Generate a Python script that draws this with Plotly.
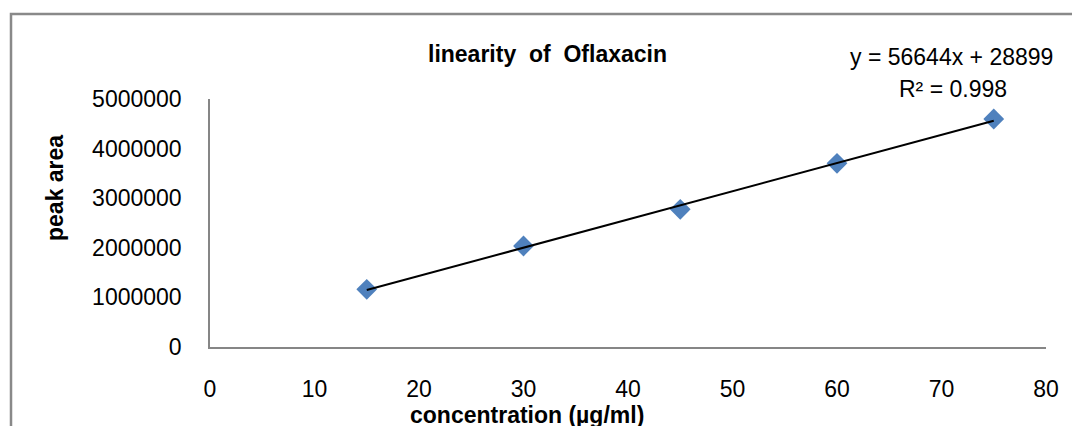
import numpy as np
import plotly.graph_objects as go

# ---- data ----
concentration = [15, 30, 45, 60, 75]
peak_area = [1163000, 2036000, 2776000, 3704000, 4597000]
x_ticks = [0, 10, 20, 30, 40, 50, 60, 70, 80]
y_ticks = [0, 1000000, 2000000, 3000000, 4000000, 5000000]
title_text = "linearity\u00a0\u00a0of\u00a0\u00a0Oflaxacin"
eq_text = "y = 56644x + 28899"
r2_text = "R\u00b2 = 0.998"
x_title = "concentration\u00a0(\u00b5g/ml)"
y_title = "peak\u00a0area"

# ---- layout geometry (pixels) ----
W, H = 1072, 426
L, R, T, B = 210, 1046, 99, 347
FONT = "Liberation Sans, Arial, sans-serif"


def px(xp):
    return (xp - L) / (R - L)


def py(yp):
    return (B - yp) / (B - T)


# trendline from least squares of the data
slope, intercept = np.polyfit(concentration, peak_area, 1)
tx = [min(concentration), max(concentration)]
ty = [slope * v + intercept for v in tx]

fig = go.Figure()
fig.add_trace(go.Scatter(
    x=concentration, y=peak_area, mode="markers",
    marker=dict(symbol="diamond", size=16, color="#4F81BD", line=dict(width=0)),
    showlegend=False, hoverinfo="x+y"))
fig.add_trace(go.Scatter(
    x=tx, y=ty, mode="lines", line=dict(color="black", width=2),
    showlegend=False, hoverinfo="skip"))

fig.update_layout(
    width=W, height=H,
    margin=dict(l=L, r=W - R, t=T, b=H - B, pad=0),
    paper_bgcolor="white", plot_bgcolor="white",
    font=dict(family=FONT, size=23, color="black"),
    showlegend=False,
    xaxis=dict(range=[0, 80], tickvals=x_ticks, ticktext=[str(v) for v in x_ticks],
               showgrid=False, zeroline=False, showline=True, linecolor="#868686",
               linewidth=1.5, ticks="", ticklabelstandoff=21,
               tickfont=dict(family=FONT, size=23, color="black")),
    yaxis=dict(range=[0, 5000000], tickvals=y_ticks, ticktext=[str(v) for v in y_ticks],
               showgrid=False, zeroline=False, showline=True, linecolor="#868686",
               linewidth=1.5, ticks="", ticklabelstandoff=22,
               tickfont=dict(family=FONT, size=23, color="black")),
    shapes=[dict(type="rect", xref="paper", yref="paper",
                 x0=px(11), x1=px(1100), y0=py(460), y1=py(14),
                 line=dict(color="#898989", width=2.5), fillcolor="rgba(0,0,0,0)",
                 layer="below")],
    annotations=[
        dict(text="<b>" + title_text + "</b>", x=px(547), y=py(54), xref="paper", yref="paper",
             showarrow=False, xanchor="center", yanchor="middle",
             font=dict(family=FONT, size=23, color="black")),
        dict(text=eq_text, x=px(951), y=py(57), xref="paper", yref="paper",
             showarrow=False, xanchor="center", yanchor="middle",
             font=dict(family=FONT, size=23, color="black")),
        dict(text=r2_text, x=px(953), y=py(89), xref="paper", yref="paper",
             showarrow=False, xanchor="center", yanchor="middle",
             font=dict(family=FONT, size=23, color="black")),
        dict(text="<b>" + x_title + "</b>", x=px(527), y=py(415), xref="paper", yref="paper",
             showarrow=False, xanchor="center", yanchor="middle",
             font=dict(family=FONT, size=23, color="black")),
        dict(text="<b>" + y_title + "</b>", x=px(55), y=py(188), xref="paper", yref="paper",
             showarrow=False, xanchor="center", yanchor="middle", textangle=-90,
             font=dict(family=FONT, size=23, color="black")),
    ],
)

fig.write_html(
    "out.html",
    config={"displayModeBar": False},
    post_script="document.body.style.margin='0';document.body.style.padding='0';"
                "document.body.style.overflow='hidden';",
)
